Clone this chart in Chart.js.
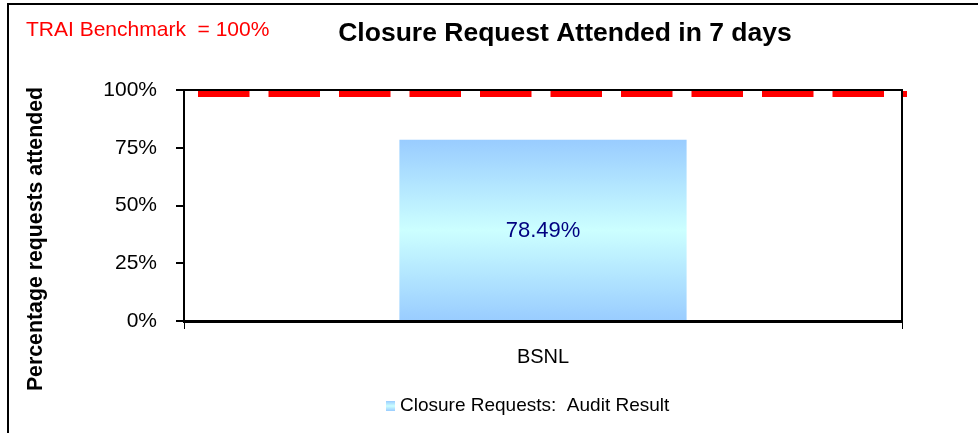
<!DOCTYPE html>
<html>
<head>
<meta charset="utf-8">
<script src="https://cdn.jsdelivr.net/npm/chart.js@4.4.0/dist/chart.umd.min.js"></script>
<style>
  html, body { margin: 0; padding: 0; background: #fff; }
</style>
</head>
<body>
<canvas id="myChart" width="978" height="433"></canvas>
<script>
// Chart data
var categories = ['BSNL'];
var auditResult = [78.49];
var benchmark = [98.3];
var yTicks = [0, 25, 50, 75, 100];
var seriesName = 'Closure Requests:  Audit Result';
var chartTitle = 'Closure Request Attended in 7 days';
var benchmarkNote = 'TRAI Benchmark  = 100%';
var yAxisTitle = 'Percentage requests attended';

var FONT = '"Liberation Sans", Arial, sans-serif';

function blueGradient(c, top, bottom) {
  var g = c.createLinearGradient(0, top, 0, bottom);
  g.addColorStop(0, '#99CCFF');
  g.addColorStop(0.5, '#CCFFFF');
  g.addColorStop(1, '#99CCFF');
  return g;
}

// vertical light blue gradient over the bar height
function barGradient(context) {
  var chart = context.chart;
  if (context.type !== 'data' || !chart.chartArea) return '#B3E0FF';
  var y = chart.scales.y;
  return blueGradient(chart.ctx, y.getPixelForValue(context.raw), y.getPixelForValue(0));
}

var extrasPlugin = {
  id: 'extras',
  beforeDraw: function(chart) {
    var c = chart.ctx;
    c.save();
    c.fillStyle = '#fff';
    c.fillRect(0, 0, chart.width, chart.height);
    // outer frame (left + top)
    c.strokeStyle = '#000';
    c.lineWidth = 2;
    c.beginPath();
    c.moveTo(8, chart.height);
    c.lineTo(8, 4);
    c.lineTo(chart.width, 4);
    c.stroke();
    c.restore();
  },
  afterDatasetsDraw: function(chart) {
    var c = chart.ctx, a = chart.chartArea, y = chart.scales.y;
    c.save();
    // value labels inside bars
    var meta = chart.getDatasetMeta(0);
    c.fillStyle = '#000080';
    c.font = '22px ' + FONT;
    c.textAlign = 'center';
    c.textBaseline = 'middle';
    meta.data.forEach(function(bar, i) {
      c.fillText(auditResult[i].toFixed(2) + '%', bar.x, (bar.y + bar.base) / 2 + 1);
    });
    // plot area top + right border
    c.strokeStyle = '#000';
    c.lineWidth = 2;
    c.beginPath();
    c.moveTo(a.left, a.top);
    c.lineTo(a.right, a.top);
    c.lineTo(a.right, a.bottom);
    c.stroke();
    // benchmark dashed line
    var by = y.getPixelForValue(benchmark[0]);
    c.strokeStyle = '#FF0000';
    c.lineWidth = 6;
    c.setLineDash([51.5, 19]);
    c.lineDashOffset = 56.5;
    c.beginPath();
    c.moveTo(a.left, by);
    c.lineTo(a.right + 5, by);
    c.stroke();
    c.restore();
  },
  afterDraw: function(chart) {
    var c = chart.ctx;
    c.save();
    c.textBaseline = 'middle';
    // benchmark note
    c.fillStyle = '#FF0000';
    c.font = '21px ' + FONT;
    c.textAlign = 'left';
    c.fillText(benchmarkNote, 26, 30);
    // legend
    c.fillStyle = blueGradient(c, 401, 411);
    c.fillRect(386, 401, 9, 10);
    c.fillStyle = '#000';
    c.font = '19px ' + FONT;
    c.fillText(seriesName, 400, 406);
    // title
    c.font = 'bold 26.5px ' + FONT;
    c.textAlign = 'center';
    c.fillText(chartTitle, 565, 34);
    // y axis title
    c.translate(36, 239);
    c.rotate(-Math.PI / 2);
    c.font = 'bold 21.3px ' + FONT;
    c.fillText(yAxisTitle, 0, 0);
    c.restore();
  }
};

var ctx = document.getElementById('myChart').getContext('2d');
var myChart = new Chart(ctx, {
  type: 'bar',
  data: {
    labels: categories,
    datasets: [{
      label: seriesName,
      data: auditResult,
      backgroundColor: barGradient,
      borderWidth: 0,
      barPercentage: 0.4,
      categoryPercentage: 1
    }]
  },
  options: {
    responsive: false,
    animation: false,
    devicePixelRatio: 1,
    layout: { padding: { left: 10, top: 90, right: 76, bottom: 48 } },
    scales: {
      x: {
        grid: { offset: true, drawOnChartArea: false, drawTicks: true, tickLength: 8, color: '#000', lineWidth: 1 },
        border: { display: true, color: '#000', width: 3 },
        ticks: { color: '#000', font: { family: FONT, size: 20 }, padding: 16 },
        afterFit: function(scale) { scale.height = 64; }
      },
      y: {
        min: 0,
        max: 100,
        afterBuildTicks: function(scale) {
          scale.ticks = yTicks.map(function(v) { return { value: v }; });
        },
        grid: { drawOnChartArea: false, drawTicks: true, tickLength: 8, color: '#000', lineWidth: 2 },
        border: { display: true, color: '#000', width: 2 },
        ticks: {
          color: '#000',
          font: { family: FONT, size: 21 },
          padding: 19,
          callback: function(v) { return v + '%'; }
        },
        afterFit: function(scale) { scale.width = 174; }
      }
    },
    plugins: {
      legend: { display: false },
      title: { display: false },
      tooltip: { enabled: false }
    }
  },
  plugins: [extrasPlugin]
});
</script>
</body>
</html>
